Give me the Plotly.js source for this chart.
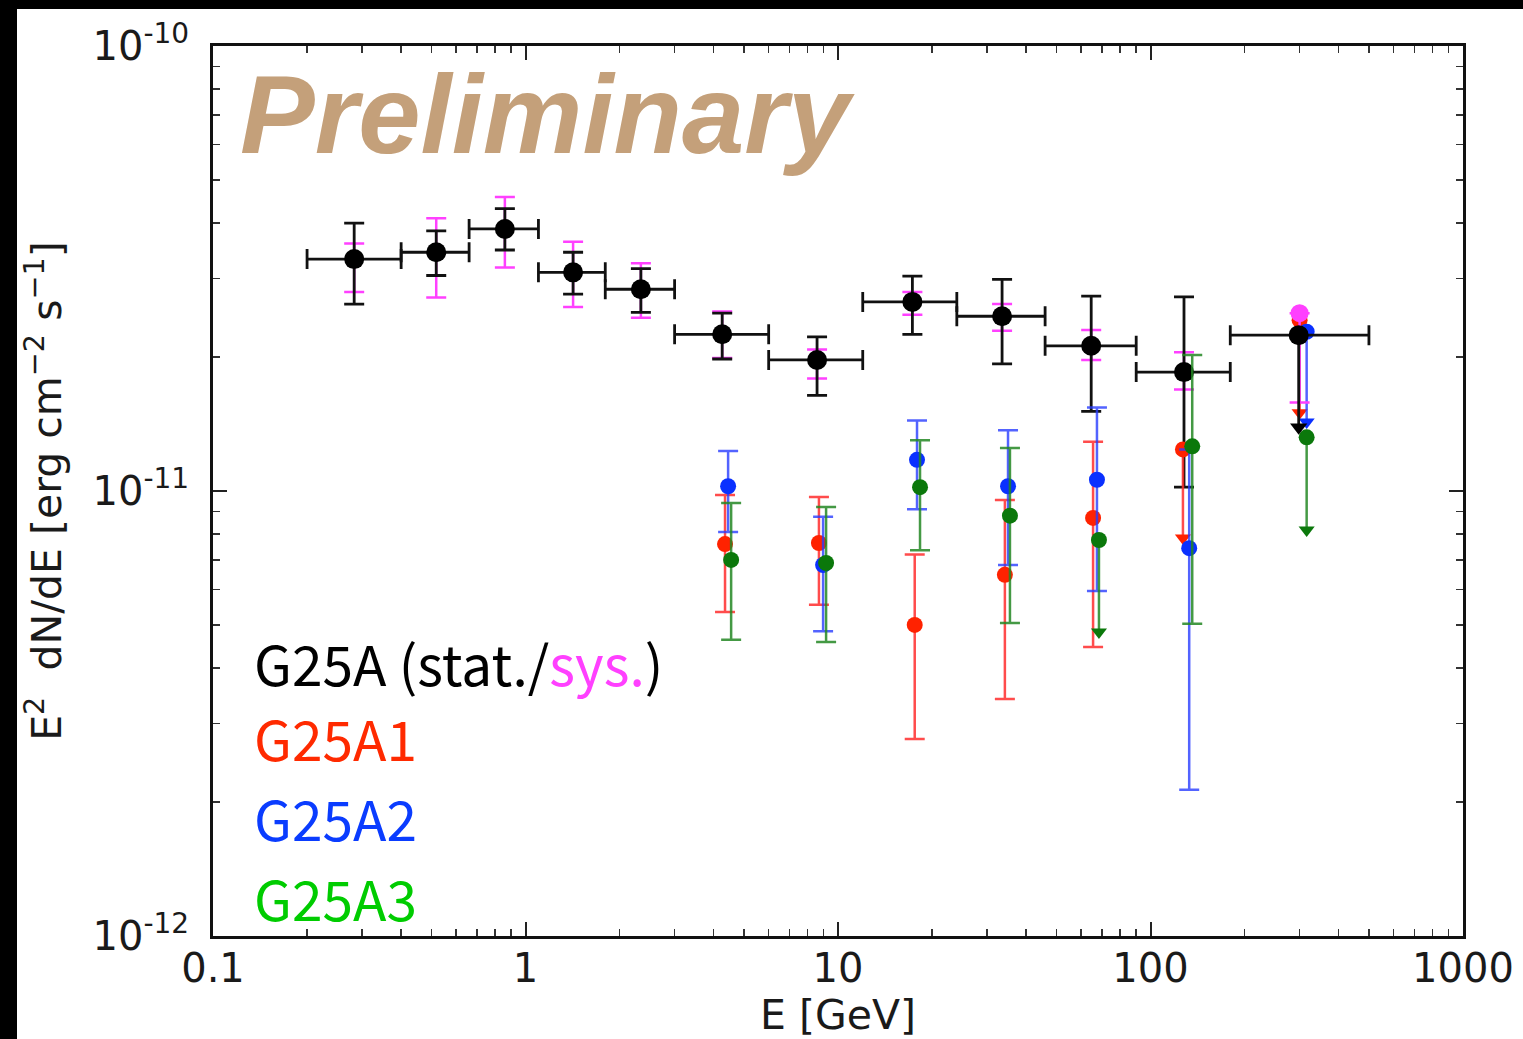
<!DOCTYPE html>
<html>
<head>
<meta charset="utf-8">
<script src="https://cdn.plot.ly/plotly-3.0.1.min.js"></script>
<style>
  html, body { margin:0; padding:0; background:#000; overflow:hidden; }
  #chart { position:absolute; left:17px; top:9px; width:1506px; height:1030px; background:#fff; }
</style>
</head>
<body>
<div id="chart"></div>
<script>
// ---------------- DATA ----------------
// G25A (black): energy bin centres, bin edges, flux values (erg cm^-2 s^-1)
const energy      = [0.283, 0.518, 0.859, 1.42, 2.34, 4.26, 8.57, 17.3, 33.5, 64.6, 128, 298];
const binLow      = [0.2, 0.4, 0.66, 1.1, 1.8, 3.0, 6.0, 12, 24, 46, 90, 180];
const binHigh     = [0.4, 0.66, 1.1, 1.8, 3.0, 6.0, 12, 24, 46, 90, 180, 500];
const flux        = [3.32e-11, 3.44e-11, 3.88e-11, 3.10e-11, 2.84e-11, 2.25e-11, 1.97e-11, 2.66e-11, 2.47e-11, 2.12e-11, 1.85e-11, 2.24e-11];
const statHigh    = [4.00e-11, 3.84e-11, 4.31e-11, 3.44e-11, 3.16e-11, 2.51e-11, 2.22e-11, 3.04e-11, 2.99e-11, 2.74e-11, 2.73e-11, null];
const statLow     = [2.63e-11, 3.05e-11, 3.48e-11, 2.77e-11, 2.52e-11, 1.98e-11, 1.64e-11, 2.25e-11, 1.93e-11, 1.51e-11, 1.02e-11, null];
const sysHigh     = [3.60e-11, 4.10e-11, 4.58e-11, 3.63e-11, 3.25e-11, 2.53e-11, 2.08e-11, 2.80e-11, 2.63e-11, 2.30e-11, 2.05e-11, null];
const sysLow      = [2.80e-11, 2.72e-11, 3.18e-11, 2.59e-11, 2.45e-11, 1.99e-11, 1.79e-11, 2.49e-11, 2.29e-11, 1.97e-11, 1.69e-11, null];
const fluxUL      = [null, null, null, null, null, null, null, null, null, null, null, 1.39e-11];
// systematic upper-limit point in the last bin (magenta)
const sysUlEnergy = [300];
const sysUlValue  = [2.51e-11];
const sysUlEnd    = [1.58e-11];

// G25A1 (red)
const a1Energy = [4.35, 8.69, 17.6, 34.2, 65.5, 127, 300];
const a1Flux   = [7.6e-12, 7.64e-12, 5.0e-12, 6.48e-12, 8.7e-12, 1.24e-11, 2.42e-11];
const a1High   = [9.8e-12, 9.7e-12, 7.2e-12, 9.55e-12, 1.29e-11, null, null];
const a1Low    = [5.35e-12, 5.55e-12, 2.77e-12, 3.41e-12, 4.46e-12, null, null];
const a1UL     = [null, null, null, null, null, 7.84e-12, 1.50e-11];

// G25A2 (blue)
const a2Energy = [4.45, 8.96, 17.9, 35.0, 67.4, 133, 316];
const a2Flux   = [1.025e-11, 6.82e-12, 1.175e-11, 1.025e-11, 1.06e-11, 7.44e-12, 2.28e-11];
const a2High   = [1.23e-11, 8.75e-12, 1.44e-11, 1.37e-11, 1.54e-11, 1.24e-11, null];
const a2Low    = [8.09e-12, 4.84e-12, 9.1e-12, 6.82e-12, 5.96e-12, 2.13e-12, null];
const a2UL     = [null, null, null, null, null, null, 1.43e-11];

// G25A3 (green)
const a3Energy = [4.55, 9.16, 18.3, 35.5, 68.4, 136, 316];
const a3Flux   = [7.0e-12, 6.89e-12, 1.02e-11, 8.8e-12, 7.76e-12, 1.26e-11, 1.32e-11];
const a3High   = [9.4e-12, 9.2e-12, 1.30e-11, 1.25e-11, null, 2.02e-11, null];
const a3Low    = [4.63e-12, 4.58e-12, 7.36e-12, 5.05e-12, null, 5.03e-12, null];
const a3UL     = [null, null, null, null, 4.82e-12, null, 8.17e-12];

const xTickVals = [0.1, 1, 10, 100, 1000];
const xTickText = ['0.1', '1', '10', '100', '1000'];
const yTickVals = [1e-12, 1e-11, 1e-10];
const yTickText = ['10<sup>-12</sup>', '10<sup>-11</sup>', '10<sup>-10</sup>'];

// ---------------- BUILD ----------------
function idx(arr, pred) { const r = []; arr.forEach((v, i) => { if (pred(v, i)) r.push(i); }); return r; }
function pick(arr, ids) { return ids.map(i => arr[i]); }

const traces = [];

// magenta systematic bars
const sysIds = idx(sysHigh, v => v !== null);
traces.push({
  type: 'scatter', mode: 'markers', showlegend: false, hoverinfo: 'skip',
  x: pick(energy, sysIds), y: pick(flux, sysIds),
  marker: { size: 1, color: 'rgba(0,0,0,0)' },
  error_y: { type: 'data', symmetric: false,
    array: sysIds.map(i => sysHigh[i] - flux[i]),
    arrayminus: sysIds.map(i => flux[i] - sysLow[i]),
    color: '#ff40ff', thickness: 2.5, width: 10 }
});

// black stat points
const statIds = idx(statHigh, v => v !== null);
traces.push({
  type: 'scatter', mode: 'markers', showlegend: false,
  x: pick(energy, statIds), y: pick(flux, statIds),
  marker: { size: 20, color: '#000' },
  error_y: { type: 'data', symmetric: false,
    array: statIds.map(i => statHigh[i] - flux[i]),
    arrayminus: statIds.map(i => flux[i] - statLow[i]),
    color: '#111', thickness: 2.8, width: 10 },
  error_x: { type: 'data', symmetric: false,
    array: statIds.map(i => binHigh[i] - energy[i]),
    arrayminus: statIds.map(i => energy[i] - binLow[i]),
    color: '#111', thickness: 2.8, width: 10 }
});

function addSeries(E, F, H, L, U, ptColor, barColor) {
  const ids = idx(H, v => v !== null);
  traces.push({
    type: 'scatter', mode: 'markers', showlegend: false,
    x: pick(E, ids), y: pick(F, ids),
    marker: { size: 16, color: ptColor },
    error_y: { type: 'data', symmetric: false,
      array: ids.map(i => H[i] - F[i]),
      arrayminus: ids.map(i => F[i] - L[i]),
      color: barColor, thickness: 2.5, width: 10 }
  });
  const uIds = idx(U, v => v !== null);
  traces.push({
    type: 'scatter', mode: 'markers', showlegend: false,
    x: pick(E, uIds), y: pick(F, uIds),
    marker: { size: 16, color: ptColor },
    error_y: { type: 'data', symmetric: false,
      array: uIds.map(() => 0),
      arrayminus: uIds.map(i => F[i] - U[i]),
      color: barColor, thickness: 2.5, width: 0 }
  });
  traces.push({
    type: 'scatter', mode: 'markers', showlegend: false,
    x: pick(E, uIds), y: pick(U, uIds),
    marker: { size: 14, symbol: 'triangle-down', color: ptColor }
  });
}
addSeries(a1Energy, a1Flux, a1High, a1Low, a1UL, '#ff2200', 'rgba(255,45,45,0.85)');
addSeries(a2Energy, a2Flux, a2High, a2Low, a2UL, '#0a30ff', 'rgba(40,60,255,0.8)');
addSeries(a3Energy, a3Flux, a3High, a3Low, a3UL, '#0b780b', 'rgba(35,135,35,0.85)');

// magenta systematic upper-limit point
traces.push({
  type: 'scatter', mode: 'markers', showlegend: false,
  x: sysUlEnergy, y: sysUlValue,
  marker: { size: 18, color: '#ff40ff' },
  error_y: { type: 'data', symmetric: false,
    array: sysUlValue.map(() => 0),
    arrayminus: sysUlValue.map((v, i) => v - sysUlEnd[i]),
    color: '#ff40ff', thickness: 2.5, width: 10 }
});

// black upper limit (last bin)
const ulIds = idx(fluxUL, v => v !== null);
traces.push({
  type: 'scatter', mode: 'markers', showlegend: false,
  x: pick(energy, ulIds), y: pick(flux, ulIds),
  marker: { size: 20, color: '#000' },
  error_y: { type: 'data', symmetric: false,
    array: ulIds.map(() => 0),
    arrayminus: ulIds.map(i => flux[i] - fluxUL[i]),
    color: '#111', thickness: 2.8, width: 0 },
  error_x: { type: 'data', symmetric: false,
    array: ulIds.map(i => binHigh[i] - energy[i]),
    arrayminus: ulIds.map(i => energy[i] - binLow[i]),
    color: '#111', thickness: 2.8, width: 10 }
});
traces.push({
  type: 'scatter', mode: 'markers', showlegend: false,
  x: pick(energy, ulIds), y: pick(fluxUL, ulIds),
  marker: { size: 15, symbol: 'triangle-down', color: '#000' }
});

const tickFontFamily = 'DejaVu Sans, sans-serif';
const legendFont = 'Noto Sans CJK JP, Noto Sans, sans-serif';

const layout = {
  width: 1506, height: 1030,
  margin: { l: 196, r: 60, t: 37, b: 103, pad: 0 },
  paper_bgcolor: '#ffffff', plot_bgcolor: '#ffffff',
  showlegend: false,
  xaxis: {
    type: 'log', range: [-1, 3], autorange: false,
    showline: true, linecolor: '#111', linewidth: 2.8, mirror: 'ticks',
    ticks: 'inside', ticklen: 14, tickwidth: 2, tickcolor: '#222',
    tickmode: 'array', tickvals: xTickVals, ticktext: xTickText,
    tickfont: { family: tickFontFamily, size: 40, color: '#1a1a1a' },
    ticklabelstandoff: -5,
    minor: { ticks: 'inside', ticklen: 7, tickwidth: 1.5, tickcolor: '#333', dtick: 'D1', showgrid: false },
    showgrid: false, zeroline: false,
    title: { text: 'E [GeV]', font: { family: tickFontFamily, size: 41, color: '#1a1a1a' }, standoff: 4 }
  },
  yaxis: {
    type: 'log', range: [-12, -10], autorange: false,
    showline: true, linecolor: '#111', linewidth: 2.8, mirror: 'ticks',
    ticks: 'inside', ticklen: 14, tickwidth: 2, tickcolor: '#222',
    tickmode: 'array', tickvals: yTickVals, ticktext: yTickText,
    tickfont: { family: tickFontFamily, size: 40, color: '#1a1a1a' },
    ticklabelstandoff: 13,
    minor: { ticks: 'inside', ticklen: 7, tickwidth: 1.5, tickcolor: '#333', dtick: 'D1', showgrid: false },
    showgrid: false, zeroline: false,
    title: { text: 'E<sup>2</sup>  dN/dE [erg cm<sup>\u22122</sup> s<sup>\u22121</sup>]',
             font: { family: tickFontFamily, size: 41, color: '#1a1a1a' }, standoff: 27 }
  },
  annotations: [
    { xref: 'paper', yref: 'paper', x: 0.02, y: 0.995, xanchor: 'left', yanchor: 'top',
      text: 'Preliminary', showarrow: false,
      font: { family: 'Liberation Sans, Arial, sans-serif', size: 112, color: '#c4a07a', weight: 'bold', style: 'italic' } },
    { xref: 'paper', yref: 'paper', x: 0.031, y: 0.308, xanchor: 'left', yanchor: 'middle',
      text: 'G25A (stat./<span style="color:#ff40ff">sys.</span>)', showarrow: false,
      font: { family: legendFont, size: 55, color: '#000' } },
    { xref: 'paper', yref: 'paper', x: 0.031, y: 0.224, xanchor: 'left', yanchor: 'middle',
      text: 'G25A1', showarrow: false, font: { family: legendFont, size: 55, color: '#ff2a00' } },
    { xref: 'paper', yref: 'paper', x: 0.031, y: 0.134, xanchor: 'left', yanchor: 'middle',
      text: 'G25A2', showarrow: false, font: { family: legendFont, size: 55, color: '#0a3cff' } },
    { xref: 'paper', yref: 'paper', x: 0.031, y: 0.044, xanchor: 'left', yanchor: 'middle',
      text: 'G25A3', showarrow: false, font: { family: legendFont, size: 55, color: '#00cc00' } }
  ]
};

Plotly.newPlot('chart', traces, layout, { staticPlot: true, displayModeBar: false });
</script>
</body>
</html>
